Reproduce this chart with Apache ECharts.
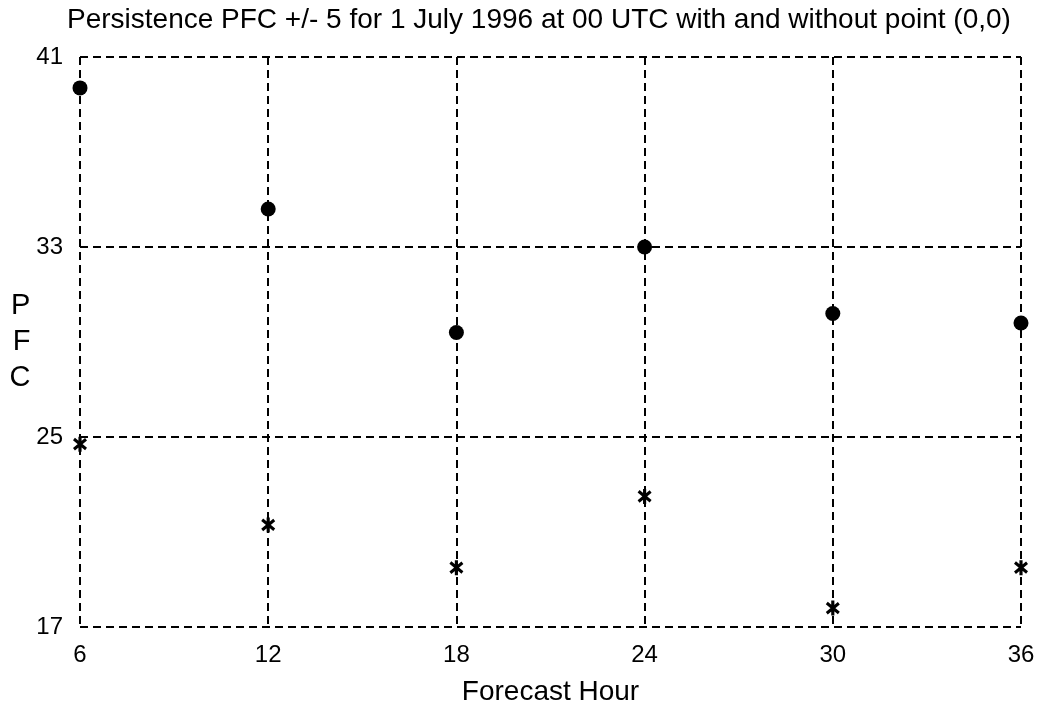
<!DOCTYPE html>
<html><head><meta charset="utf-8">
<script src="https://cdn.jsdelivr.net/npm/echarts@6/dist/echarts.min.js"></script>
<style>html,body{margin:0;padding:0;background:#fff}#c{width:1039px;height:713px}</style>
</head><body><div id="c"></div>
<script>
const hours = [6, 12, 18, 24, 30, 36];
const withPoint = [39.7, 34.6, 29.4, 33.0, 30.2, 29.8];
const withoutPoint = [24.7, 21.3, 19.5, 22.5, 17.8, 19.5];
const titleText = 'Persistence PFC +/- 5 for 1 July 1996 at 00 UTC with and without point (0,0)';

const star = 'path://M4.7 0 L7.3 0 L7.3 12 L4.7 12 Z M1.8 0.9 L11.8 8.9 L10.2 10.9 L0.2 2.9 Z M0.2 9.1 L10.2 1.1 L11.8 3.1 L1.8 11.1 Z';
const font = 'Liberation Sans, Arial, sans-serif';
const dashed = {color: '#000', width: 2, type: [8, 5]};

const chart = echarts.init(document.getElementById('c'), null, {renderer: 'canvas'});
chart.setOption({
  animation: false,
  backgroundColor: '#fff',
  title: {text: titleText, left: 62, top: 1,
    textStyle: {fontFamily: font, fontSize: 28, fontWeight: 'normal', color: '#000'}},
  grid: {left: 80, right: 18, top: 57, bottom: 86, containLabel: false},
  xAxis: {type: 'value', min: 6, max: 36, interval: 6,
    name: 'Forecast Hour', nameLocation: 'middle', nameGap: 51,
    nameTextStyle: {fontFamily: font, fontSize: 28, color: '#000'},
    axisLine: {show: false}, axisTick: {show: false},
    axisLabel: {fontFamily: font, fontSize: 24, color: '#000', margin: 16},
    splitLine: {show: true, lineStyle: dashed}},
  yAxis: {type: 'value', min: 17, max: 41, interval: 8,
    name: 'P\nF\nC', nameLocation: 'middle', nameRotate: 0, nameGap: 49,
    nameTextStyle: {fontFamily: font, fontSize: 29, color: '#000', lineHeight: 36},
    axisLine: {show: false}, axisTick: {show: false},
    axisLabel: {fontFamily: font, fontSize: 24, color: '#000', margin: 17},
    splitLine: {show: true, lineStyle: dashed}},
  series: [
    {type: 'scatter', data: hours.map((h, i) => [h, withPoint[i]]),
     symbol: 'circle', symbolSize: 15, itemStyle: {color: '#000', opacity: 1}},
    {type: 'scatter', data: hours.map((h, i) => [h, withoutPoint[i]]),
     symbol: star, symbolSize: [14, 15], itemStyle: {color: '#000', opacity: 1}}
  ]
});
</script></body></html>
